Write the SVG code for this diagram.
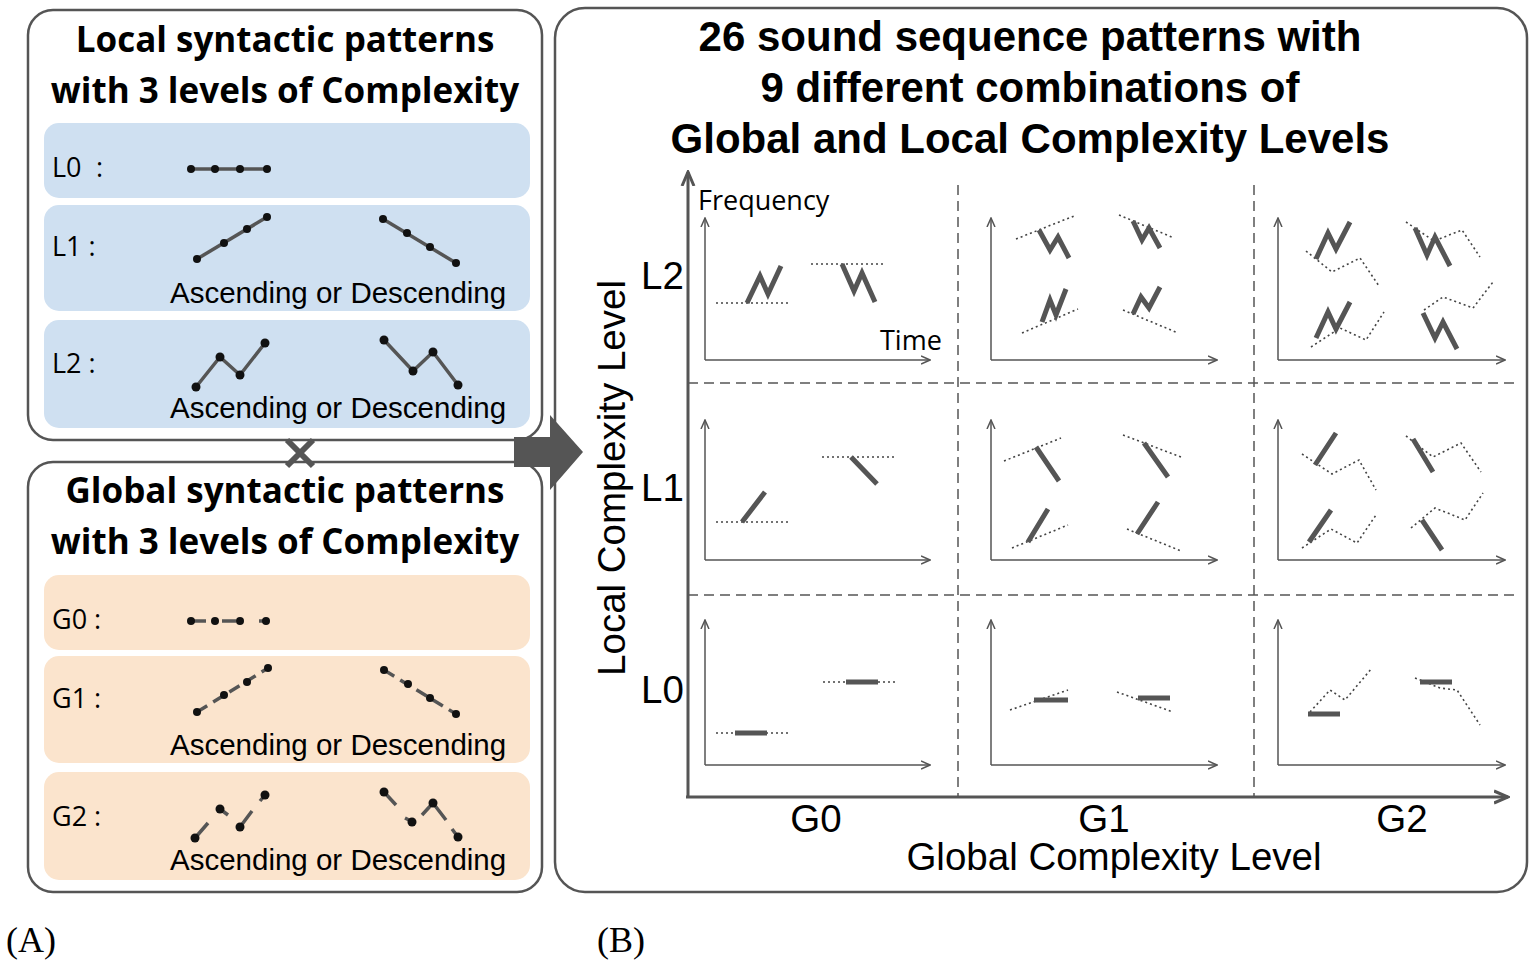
<svg xmlns="http://www.w3.org/2000/svg" width="1535" height="968" viewBox="0 0 1535 968">
<style>
.box{fill:#fff;stroke:#555;stroke-width:2.5}
.blue{fill:#cfe0f1}.org{fill:#fbe4cd}
.ttl{font-family:"Open Sans","Noto Sans",sans-serif;font-weight:bold;font-size:35px;text-anchor:middle;fill:#000}
.big{font-family:"Liberation Sans",Arial,sans-serif;font-weight:bold;font-size:42px;text-anchor:middle;fill:#000}
.lbl{font-family:"Open Sans","Noto Sans",sans-serif;font-size:27px;fill:#000}
.ad{font-family:"Liberation Sans",Arial,sans-serif;font-size:29.5px;fill:#000}
.ax{font-family:"Liberation Sans",Arial,sans-serif;font-size:38.5px;fill:#000}
.pl{fill:none;stroke:#555;stroke-width:3.5}
.pd{fill:none;stroke:#555;stroke-width:3.5;stroke-dasharray:12 7}
.dot{fill:#111}
.th{fill:none;stroke:#555;stroke-width:5}
.dt{fill:none;stroke:#444;stroke-width:1.6;stroke-dasharray:2 3}
.sa{fill:none;stroke:#555;stroke-width:1.5;marker-end:url(#sm)}
.dash{stroke:#555;stroke-width:1.5;stroke-dasharray:10 6}
.cap{font-family:"Liberation Serif",serif;font-size:36px;fill:#000}
</style>
<defs>
<marker id="sm" markerWidth="10" markerHeight="10" refX="9" refY="5" orient="auto" markerUnits="userSpaceOnUse"><path d="M0,1 L9,5 L0,9" fill="none" stroke="#555" stroke-width="1.5"/></marker>
<marker id="bm" markerWidth="16" markerHeight="16" refX="14" refY="8" orient="auto" markerUnits="userSpaceOnUse"><path d="M0,2 L14,8 L0,14" fill="none" stroke="#555" stroke-width="3"/></marker>
</defs>

<g id="local-box">
<rect class="box" x="28" y="10" width="514" height="430" rx="25"/>
<text class="ttl" x="285" y="52">Local syntactic patterns</text>
<text class="ttl" x="285" y="103">with 3 levels of Complexity</text>
<rect class="blue" x="44" y="123" width="486" height="75" rx="15"/>
<rect class="blue" x="44" y="205" width="486" height="106" rx="15"/>
<rect class="blue" x="44" y="320" width="486" height="108" rx="15"/>
<text class="lbl" x="52" y="177">L0  <tspan x="96">:</tspan></text>
<text class="lbl" x="52" y="256">L1 :</text>
<text class="lbl" x="52" y="373">L2 :</text>
<polyline class="pl" points="191,169 267,169"/>
<g class="dot"><circle cx="191" cy="169" r="4"/><circle cx="215" cy="169" r="4"/><circle cx="240" cy="169" r="4"/><circle cx="267" cy="169" r="4"/></g>
<polyline class="pl" points="197,259 267,217"/>
<g class="dot"><circle cx="197" cy="259" r="4"/><circle cx="224" cy="243" r="4"/><circle cx="247" cy="229" r="4"/><circle cx="267" cy="217" r="4"/></g>
<polyline class="pl" points="383,219 456,263"/>
<g class="dot"><circle cx="383" cy="219" r="4"/><circle cx="407" cy="233" r="4"/><circle cx="430" cy="247" r="4"/><circle cx="456" cy="263" r="4"/></g>
<text class="ad" x="170" y="303">Ascending or Descending</text>
<polyline class="pl" points="196,387 220,357 240,375 265,343"/>
<g class="dot"><circle cx="196" cy="387" r="4.5"/><circle cx="220" cy="357" r="4.5"/><circle cx="240" cy="375" r="4.5"/><circle cx="265" cy="343" r="4.5"/></g>
<polyline class="pl" points="384,340 413,371 433,352 458,385"/>
<g class="dot"><circle cx="384" cy="340" r="4.5"/><circle cx="413" cy="371" r="4.5"/><circle cx="433" cy="352" r="4.5"/><circle cx="458" cy="385" r="4.5"/></g>
<text class="ad" x="170" y="418">Ascending or Descending</text>
</g>

<g id="global-box">
<rect class="box" x="28" y="462" width="514" height="430" rx="25"/>
<text class="ttl" x="285" y="503">Global syntactic patterns</text>
<text class="ttl" x="285" y="554">with 3 levels of Complexity</text>
<rect class="org" x="44" y="575" width="486" height="75" rx="15"/>
<rect class="org" x="44" y="656" width="486" height="107" rx="15"/>
<rect class="org" x="44" y="772" width="486" height="108" rx="15"/>
<text class="lbl" x="52" y="629">G0 :</text>
<text class="lbl" x="52" y="708">G1 :</text>
<text class="lbl" x="52" y="826">G2 :</text>
<path class="pl" d="M191,621 L206,621 M222,621 L236,621 M259,621 L266,621"/>
<g class="dot"><circle cx="191" cy="621" r="4"/><circle cx="215" cy="621" r="4"/><circle cx="240" cy="621" r="4"/><circle cx="266" cy="621" r="4"/></g>
<polyline class="pd" points="197,712 268,668"/>
<g class="dot"><circle cx="197" cy="712" r="4"/><circle cx="224" cy="695" r="4"/><circle cx="247" cy="682" r="4"/><circle cx="268" cy="668" r="4"/></g>
<polyline class="pd" points="384,670 456,714"/>
<g class="dot"><circle cx="384" cy="670" r="4"/><circle cx="408" cy="684" r="4"/><circle cx="430" cy="698" r="4"/><circle cx="456" cy="714" r="4"/></g>
<text class="ad" x="170" y="755">Ascending or Descending</text>
<path class="pl" d="M195,838 L208,823 M220,809 L228,815 M240,827 L252,811 M260,801 L265,795"/>
<g class="dot"><circle cx="195" cy="838" r="4.5"/><circle cx="220" cy="809" r="4.5"/><circle cx="240" cy="827" r="4.5"/><circle cx="265" cy="795" r="4.5"/></g>
<path class="pl" d="M384,792 L396,805 M405,818 L413,822 M422,815 L433,803 M433,803 L446,820 M452,829 L458,837"/>
<g class="dot"><circle cx="384" cy="792" r="4.5"/><circle cx="412" cy="822" r="4.5"/><circle cx="433" cy="803" r="4.5"/><circle cx="458" cy="837" r="4.5"/></g>
<text class="ad" x="170" y="870">Ascending or Descending</text>
</g>

<g id="cross">
<path d="M287,440 L313,466 M313,440 L287,466" stroke="#555" stroke-width="6" fill="none"/>
</g>

<g id="right-box">
<rect class="box" x="555" y="8" width="972" height="884" rx="30"/>
<text class="big" x="1030" y="51">26 sound sequence patterns with</text>
<text class="big" x="1030" y="102">9 different combinations of</text>
<text class="big" x="1030" y="153">Global and Local Complexity Levels</text>
</g>

<g id="big-arrow">
<path d="M514,437 L550,437 L550,415 L583,452 L550,490 L550,467 L514,467 Z" fill="#555"/>
</g>

<g id="connectors">
<line x1="688" y1="797" x2="688" y2="172" stroke="#555" stroke-width="3" marker-end="url(#bm)"/>
<line x1="686" y1="797" x2="1508" y2="797" stroke="#555" stroke-width="3" marker-end="url(#bm)"/>
<line class="dash" x1="958" y1="185" x2="958" y2="797"/>
<line class="dash" x1="1254" y1="185" x2="1254" y2="797"/>
<line class="dash" x1="688" y1="383" x2="1518" y2="383"/>
<line class="dash" x1="688" y1="595" x2="1518" y2="595"/>
</g>

<g id="axis-labels">
<text class="ax" x="0" y="0" text-anchor="middle" transform="translate(625,478) rotate(-90)">Local Complexity Level</text>
<text class="ax" x="641" y="289" font-size="30">L2</text>
<text class="ax" x="641" y="501" font-size="30">L1</text>
<text class="ax" x="641" y="703" font-size="30">L0</text>
<text class="ax" x="816" y="832" font-size="29" text-anchor="middle">G0</text>
<text class="ax" x="1104" y="832" font-size="29" text-anchor="middle">G1</text>
<text class="ax" x="1402" y="832" font-size="29" text-anchor="middle">G2</text>
<text class="ax" x="1114" y="870" text-anchor="middle">Global Complexity Level</text>
<text class="lbl" x="698" y="210" font-size="30">Frequency</text>
<text class="lbl" x="880" y="350" font-size="29">Time</text>
</g>

<g id="cell-axes">
<path class="sa" d="M705,360 L705,218"/><path class="sa" d="M705,360 L930,360"/>
<path class="sa" d="M991,360 L991,218"/><path class="sa" d="M991,360 L1217,360"/>
<path class="sa" d="M1278,360 L1278,218"/><path class="sa" d="M1278,360 L1505,360"/>
<path class="sa" d="M705,560 L705,420"/><path class="sa" d="M705,560 L930,560"/>
<path class="sa" d="M991,560 L991,420"/><path class="sa" d="M991,560 L1217,560"/>
<path class="sa" d="M1278,560 L1278,420"/><path class="sa" d="M1278,560 L1505,560"/>
<path class="sa" d="M705,765 L705,620"/><path class="sa" d="M705,765 L930,765"/>
<path class="sa" d="M991,765 L991,620"/><path class="sa" d="M991,765 L1217,765"/>
<path class="sa" d="M1278,765 L1278,620"/><path class="sa" d="M1278,765 L1505,765"/>
</g>

<g id="cell-L2G0">
<path class="dt" d="M716,303 L790,303 M811,264 L884,264"/>
<polyline class="th" points="747,303 760,276 768,294 781,266"/>
<polyline class="th" points="842,264 854,291 862,273 875,302"/>
</g>
<g id="cell-L2G1">
<path class="dt" d="M1016,239 L1074,216 M1119,215 L1174,238 M1022,333 L1078,309 M1123,310 L1178,333"/>
<polyline class="th" points="1039,230 1050,250 1058,237 1069,258"/>
<polyline class="th" points="1133,221 1142,240 1149,228 1160,248"/>
<polyline class="th" points="1042,322 1050,300 1056,315 1066,289"/>
<polyline class="th" points="1133,314 1141,297 1149,308 1160,287"/>
</g>
<g id="cell-L2G2">
<polyline class="dt" points="1306,251 1332,272 1360,258 1379,286"/>
<polyline class="dt" points="1406,222 1434,241 1462,230 1480,257"/>
<polyline class="dt" points="1311,347 1340,328 1366,340 1384,312"/>
<polyline class="dt" points="1424,310 1443,297 1473,308 1493,282"/>
<polyline class="th" points="1316,259 1328,233 1336,249 1350,222"/>
<polyline class="th" points="1415,228 1427,255 1435,237 1450,266"/>
<polyline class="th" points="1316,338 1328,312 1336,329 1350,302"/>
<polyline class="th" points="1423,313 1435,338 1443,322 1457,349"/>
</g>
<g id="cell-L1G0">
<path class="dt" d="M716,522 L790,522 M822,457 L894,457"/>
<path class="th" d="M742,522 L765,492 M851,457 L877,484"/>
</g>
<g id="cell-L1G1">
<path class="dt" d="M1004,461 L1061,438 M1123,435 L1181,457 M1012,548 L1068,525 M1127,529 L1181,551"/>
<path class="th" d="M1036,447 L1059,481 M1144,443 L1168,477 M1028,542 L1048,509 M1137,534 L1158,502"/>
</g>
<g id="cell-L1G2">
<polyline class="dt" points="1302,454 1332,474 1359,460 1376,490"/>
<polyline class="dt" points="1406,436 1433,457 1461,443 1481,472"/>
<polyline class="dt" points="1302,548 1331,529 1357,543 1376,515"/>
<polyline class="dt" points="1411,528 1435,508 1465,520 1483,493"/>
<path class="th" d="M1315,465 L1336,433 M1413,439 L1433,472 M1309,542 L1331,510 M1422,520 L1442,550"/>
</g>
<g id="cell-L0G0">
<path class="dt" d="M716,733 L790,733 M823,682 L896,682"/>
<path class="th" d="M735,733 L767,733 M846,682 L878,682"/>
</g>
<g id="cell-L0G1">
<path class="dt" d="M1010,710 L1068,690 M1117,692 L1173,712"/>
<path class="th" d="M1034,700 L1068,700 M1138,698 L1170,698"/>
</g>
<g id="cell-L0G2">
<polyline class="dt" points="1310,712 1330,690 1345,700 1372,668"/>
<polyline class="dt" points="1415,678 1440,688 1457,690 1480,725"/>
<path class="th" d="M1308,714 L1340,714 M1420,682 L1452,682"/>
</g>

<g id="captions">
<text class="cap" x="6" y="952">(A)</text>
<text class="cap" x="597" y="952">(B)</text>
</g>
</svg>
